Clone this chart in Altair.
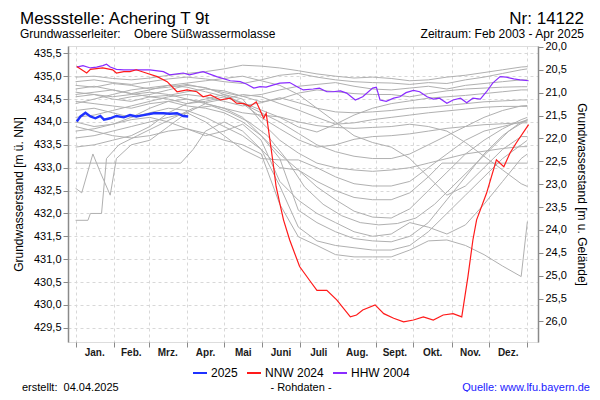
import altair as alt
import pandas as pd

# ---------------- axis / layout values ----------------
MONTH_STARTS = [0, 31, 59, 90, 120, 151, 181, 212, 243, 273, 304, 334, 365]
MONTH_LABELS = ["Jan.", "Feb.", "Mrz.", "Apr.", "Mai", "Juni", "Juli", "Aug.",
                "Sept.", "Okt.", "Nov.", "Dez."]
LEVEL_TICKS = [429.5, 430.0, 430.5, 431.0, 431.5, 432.0, 432.5, 433.0,
               433.5, 434.0, 434.5, 435.0, 435.5]
DEPTH_TICKS = [20.0, 20.5, 21.0, 21.5, 22.0, 22.5, 23.0, 23.5, 24.0, 24.5,
               25.0, 25.5, 26.0]
GROUND = 455.64
Y_MIN, Y_MAX = 429.19, 435.66
X_MIN, X_MAX = -6.1, 373.6

# ---------------- highlighted series ----------------
DAYS_2025 = [1, 4, 8, 12, 16, 20, 23, 28, 33, 39, 44, 49, 55, 63, 71, 76, 82, 87, 91]
LEVEL_2025 = [434.01, 434.12, 434.20, 434.12, 434.08, 434.13, 434.05, 434.08, 434.13,
              434.10, 434.15, 434.12, 434.15, 434.19, 434.19, 434.18, 434.19, 434.13, 434.12]

DAYS_NNW = [1, 9, 12, 22, 30, 33, 39, 44, 49, 57, 66, 74, 82, 90, 98, 103, 109, 117,
            125, 130, 136, 141, 146, 149, 152, 154, 157, 160, 162, 165, 168, 173, 181,
            189, 195, 203, 211, 222, 227, 232, 242, 249, 257, 265, 273, 281, 289, 297,
            305, 312, 317, 321, 324, 332, 340, 346, 351, 356, 366]
LEVEL_NNW = [435.21, 435.07, 435.15, 435.18, 435.14, 435.07, 435.10, 435.10, 435.14,
             435.07, 434.99, 434.88, 434.66, 434.70, 434.66, 434.55, 434.59, 434.48,
             434.52, 434.41, 434.40, 434.34, 434.44, 434.26, 434.08, 434.19, 433.61,
             433.02, 432.59, 432.22, 431.86, 431.42, 430.84, 430.54, 430.32, 430.32,
             430.11, 429.74, 429.78, 429.89, 430.00, 429.81, 429.71, 429.63, 429.67,
             429.74, 429.67, 429.78, 429.81, 429.74, 430.62, 431.42, 431.86, 432.44,
             433.17, 433.02, 433.32, 433.54, 433.94]

DAYS_HHW = [1, 6, 12, 17, 22, 25, 28, 33, 39, 49, 60, 71, 76, 87, 92, 103, 114, 125,
            133, 138, 144, 149, 154, 160, 165, 173, 179, 184, 192, 197, 203, 208, 214,
            219, 226, 232, 240, 243, 246, 251, 257, 262, 267, 273, 278, 284, 289, 294,
            300, 305, 311, 316, 321, 327, 332, 337, 343, 348, 354, 359, 366]
LEVEL_HHW = [435.20, 435.23, 435.18, 435.20, 435.23, 435.26, 435.20, 435.15, 435.14,
             435.14, 435.14, 435.10, 435.03, 435.07, 435.03, 435.10, 434.99, 434.90,
             434.88, 434.83, 434.74, 434.77, 434.76, 434.81, 434.85, 434.86, 434.77,
             434.70, 434.72, 434.74, 434.66, 434.66, 434.68, 434.63, 434.48, 434.55,
             434.74, 434.76, 434.48, 434.45, 434.52, 434.55, 434.64, 434.69, 434.66,
             434.55, 434.50, 434.52, 434.41, 434.48, 434.52, 434.42, 434.52, 434.50,
             434.66, 434.85, 434.99, 434.98, 434.94, 434.92, 434.90]

SERIES = ["2025", "NNW 2024", "HHW 2004"]
SERIES_COLORS = ["#1f32ff", "#ff1a1a", "#8a2cff"]

# ---------------- other years (grey) ----------------
DAYS_GRID = [0, 15, 30, 45, 60, 75, 90, 105, 120, 135, 150, 165, 180, 195, 210, 225,
             240, 255, 270, 285, 300, 315, 330, 345, 360, 365]

G2005 = [434.98, 435.00, 434.95, 434.92, 434.96, 435.02, 435.06, 435.10, 435.16, 435.24,
         435.22, 435.18, 435.12, 435.05, 435.00, 434.96, 434.98, 434.95, 434.90, 434.92,
         434.98, 435.02, 435.08, 435.14, 435.20, 435.21]
G2006 = [434.88, 434.92, 434.86, 434.82, 434.88, 434.94, 434.98, 434.94, 434.88, 434.84,
         434.92, 435.02, 435.06, 434.98, 434.92, 434.88, 434.86, 434.85, 434.82, 434.86,
         434.84, 434.92, 434.98, 435.06, 435.14, 435.16]
G2007 = [434.80, 434.76, 434.84, 434.80, 434.72, 434.76, 434.82, 434.74, 434.64, 434.56,
         434.60, 434.70, 434.78, 434.82, 434.86, 434.78, 434.72, 434.70, 434.74, 434.78,
         434.72, 434.80, 434.84, 434.88, 434.92, 434.92]
G2008 = [434.60, 434.65, 434.70, 434.62, 434.55, 434.58, 434.66, 434.72, 434.68, 434.56,
         434.44, 434.50, 434.63, 434.70, 434.66, 434.62, 434.60, 434.60, 434.55, 434.62,
         434.68, 434.72, 434.74, 434.76, 434.77, 434.77]
G2009 = [434.72, 434.78, 434.70, 434.62, 434.70, 434.80, 434.76, 434.66, 434.56, 434.42,
         434.26, 434.10, 433.89, 433.78, 433.95, 434.15, 434.30, 434.40, 434.46, 434.52,
         434.55, 434.58, 434.62, 434.66, 434.70, 434.70]
G2010 = [434.10, 434.15, 434.25, 434.35, 434.45, 434.55, 434.60, 434.55, 434.45, 434.35,
         434.42, 434.53, 434.42, 434.30, 434.22, 434.20, 434.22, 434.25, 434.30, 434.32,
         434.36, 434.40, 434.44, 434.46, 434.48, 434.48]
G2011 = [434.65, 434.60, 434.55, 434.60, 434.65, 434.60, 434.50, 434.42, 434.50, 434.60,
         434.55, 434.40, 434.26, 434.10, 433.95, 433.98, 434.05, 434.10, 434.15, 434.20,
         434.24, 434.28, 434.32, 434.34, 434.34, 434.34]
G2012 = [433.80, 433.85, 433.95, 434.10, 434.30, 434.45, 434.50, 434.40, 434.30, 434.20,
         434.15, 434.11, 434.00, 433.92, 433.88, 433.86, 433.88, 433.90, 433.95, 433.90,
         433.80, 433.55, 433.25, 432.95, 432.65, 432.59]
G2013 = [434.55, 434.60, 434.50, 434.45, 434.55, 434.50, 434.40, 434.45, 434.55, 434.40,
         434.10, 433.85, 433.61, 433.45, 433.50, 433.62, 433.68, 433.70, 433.74, 433.80,
         433.86, 433.90, 433.94, 433.96, 433.98, 433.98]
G2014 = [434.40, 434.50, 434.60, 434.70, 434.75, 434.80, 434.85, 434.90, 434.95, 435.00,
         434.90, 434.80, 434.60, 434.30, 434.00, 433.70, 433.55, 433.45, 433.20, 432.80,
         432.40, 432.60, 433.00, 433.40, 433.68, 433.68]
G2015 = [433.45, 433.50, 433.60, 433.70, 433.90, 434.20, 434.40, 434.50, 434.60, 434.50,
         434.00, 433.60, 433.32, 433.10, 433.00, 432.95, 432.92, 432.95, 433.00, 433.10,
         433.20, 433.30, 433.36, 433.42, 433.46, 433.46]
G2016 = [433.65, 433.70, 433.80, 433.90, 434.00, 434.10, 434.20, 434.00, 433.70, 433.40,
         433.20, 433.17, 433.17, 433.00, 432.80, 432.65, 432.60, 432.60, 432.70, 433.00,
         433.30, 433.60, 433.80, 433.90, 434.00, 434.02]
G2018 = [434.45, 434.40, 434.35, 434.30, 434.40, 434.45, 434.35, 434.30, 434.20, 434.00,
         433.70, 433.30, 432.95, 432.58, 432.30, 432.05, 431.92, 431.90, 432.10, 432.50,
         432.90, 433.30, 433.60, 433.85, 434.05, 434.10]
G2020 = [434.00, 433.90, 433.95, 434.05, 434.10, 434.00, 433.85, 433.70, 433.80, 433.95,
         433.60, 432.70, 432.29, 432.00, 431.80, 431.60, 431.50, 431.55, 431.80, 431.70,
         431.55, 431.75, 432.20, 432.70, 433.20, 433.30]
G2022 = [434.25, 434.30, 434.20, 434.10, 434.20, 434.30, 434.25, 434.10, 433.90, 433.70,
         433.40, 432.60, 431.70, 431.40, 431.30, 431.25, 431.20, 431.20, 431.30, 431.60,
         432.00, 432.40, 432.80, 433.20, 433.50, 433.60]
G2023 = [433.90, 433.80, 433.70, 433.65, 433.70, 433.80, 433.85, 433.75, 433.60, 433.50,
         433.30, 432.20, 431.49, 431.30, 431.10, 431.05, 431.05, 431.05, 431.20, 431.40,
         431.42, 431.30, 431.10, 430.85, 430.62, 431.82]

DAYS_2003 = [35, 45, 60, 75, 90, 105, 120, 135, 150, 165, 180, 195, 210, 225, 240, 255,
             270, 285, 300, 315, 330, 345, 360, 365]
G2003 = [434.50, 434.55, 434.60, 434.70, 434.80, 434.75, 434.60, 434.40, 434.20, 434.00,
         433.75, 433.50, 433.35, 433.25, 433.20, 433.20, 433.30, 433.50, 433.70, 433.90,
         434.10, 434.25, 434.35, 434.36]

DAYS_2017 = [0, 30, 60, 85, 95, 105, 120, 135, 150, 165, 180, 195, 210, 225, 240, 255,
             270, 285, 296, 330, 365]
G2017 = [433.10, 433.10, 433.10, 433.10, 433.40, 433.80, 434.00, 433.80, 433.40, 433.00,
         432.95, 432.70, 432.50, 432.35, 432.30, 432.30, 432.45, 432.80, 433.10, 433.10,
         433.10]

DAYS_2019 = [0, 10, 12, 21, 25, 35, 50, 65, 80, 95, 110, 125, 140, 155, 170, 185, 200,
             215, 230, 245, 260, 275, 290, 305, 320, 335, 350, 365]
G2019 = [431.85, 431.85, 432.00, 432.00, 433.20, 433.50, 433.70, 433.90, 434.10, 434.30,
         434.35, 434.20, 434.00, 433.70, 433.20, 432.58, 432.20, 431.95, 431.80, 431.75,
         431.78, 431.90, 432.20, 432.60, 433.00, 433.40, 433.80, 434.05]

DAYS_2021 = [0, 5, 14, 20, 28, 33, 45, 60, 75, 90, 105, 120, 135, 150, 165, 180, 195,
             210, 225, 240, 255, 270, 285, 300, 315, 330, 345, 360, 365]
G2021 = [432.55, 432.45, 433.30, 432.90, 432.40, 433.20, 433.50, 433.60, 433.90, 434.20,
         434.40, 434.30, 434.10, 433.70, 433.20, 432.07, 431.80, 431.60, 431.45, 431.40,
         431.38, 431.50, 431.80, 432.30, 432.80, 433.30, 433.70, 434.00, 434.05]

GREY_YEARS = [
    ("2003", DAYS_2003, G2003), ("2005", DAYS_GRID, G2005), ("2006", DAYS_GRID, G2006),
    ("2007", DAYS_GRID, G2007), ("2008", DAYS_GRID, G2008), ("2009", DAYS_GRID, G2009),
    ("2010", DAYS_GRID, G2010), ("2011", DAYS_GRID, G2011), ("2012", DAYS_GRID, G2012),
    ("2013", DAYS_GRID, G2013), ("2014", DAYS_GRID, G2014), ("2015", DAYS_GRID, G2015),
    ("2016", DAYS_GRID, G2016), ("2017", DAYS_2017, G2017), ("2018", DAYS_GRID, G2018),
    ("2019", DAYS_2019, G2019), ("2020", DAYS_GRID, G2020), ("2021", DAYS_2021, G2021),
    ("2022", DAYS_GRID, G2022), ("2023", DAYS_GRID, G2023),
]

# ---------------- tables ----------------
grey_rows = []
for year, days, vals in GREY_YEARS:
    for d, v in zip(days, vals):
        grey_rows.append({"year": year, "day": d, "level": v})
grey_df = pd.DataFrame(grey_rows)


def series_df(name, days, vals):
    return pd.DataFrame({"series": name, "day": days, "level": vals})


month_df = pd.DataFrame({
    "mid": [(a + b) / 2 for a, b in zip(MONTH_STARTS[:-1], MONTH_STARTS[1:])],
    "label": MONTH_LABELS,
})

FONT = "Liberation Sans"
GRID = "#d8d8d8"
AXC = "#8a8a8a"

x_scale = alt.Scale(domain=[X_MIN, X_MAX], nice=False, zero=False)
x_axis = alt.Axis(values=MONTH_STARTS, labels=False, ticks=True, tickSize=5,
                  tickColor=AXC, domain=False, grid=True, gridDash=[3, 3],
                  gridColor=GRID, title=None)
y_scale = alt.Scale(domain=[Y_MIN, Y_MAX], nice=False, zero=False)
y_axis = alt.Axis(values=LEVEL_TICKS,
                  labelExpr="replace(format(datum.value, '.1f'), '.', ',')",
                  tickSize=5, tickColor=AXC, domainColor=AXC, domainWidth=1.5,
                  grid=True, gridDash=[3, 3], gridColor=GRID,
                  title="Grundwasserstand [m ü. NN]", titleFontSize=12,
                  titleFontWeight="normal", titleColor="black", labelFontSize=11,
                  labelColor="black", labelPadding=2, titlePadding=8,
                  labelFont=FONT, titleFont=FONT)

grey = alt.Chart(grey_df).mark_line(color="#b0b0b0", strokeWidth=1).encode(
    x=alt.X("day:Q", scale=x_scale, axis=x_axis),
    y=alt.Y("level:Q", scale=y_scale, axis=y_axis),
    detail="year:N",
)

color_enc = alt.Color("series:N",
                      scale=alt.Scale(domain=SERIES, range=SERIES_COLORS),
                      legend=alt.Legend(orient="none", legendX=124, legendY=319,
                                        direction="horizontal", title=None,
                                        symbolType="stroke", symbolSize=196,
                                        symbolStrokeWidth=2, labelFontSize=12,
                                        labelFont=FONT, labelColor="black",
                                        columnPadding=5, labelOffset=3))


def hl_layer(name, days, vals, width):
    return alt.Chart(series_df(name, days, vals)).mark_line(strokeWidth=width).encode(
        x=alt.X("day:Q", scale=x_scale, axis=x_axis),
        y=alt.Y("level:Q", scale=y_scale, axis=y_axis),
        color=color_enc,
    )


hhw = hl_layer("HHW 2004", DAYS_HHW, LEVEL_HHW, 1.2)
nnw = hl_layer("NNW 2024", DAYS_NNW, LEVEL_NNW, 1.2)
cur = hl_layer("2025", DAYS_2025, LEVEL_2025, 2.4)

months = alt.Chart(month_df).mark_text(fontSize=10, fontWeight="bold", font=FONT,
                                       color="#1a1a1a", baseline="alphabetic").encode(
    x=alt.X("mid:Q", scale=x_scale, axis=x_axis),
    y=alt.value(310),
    text="label:N",
)


def label(txt, x, y, size=12, align="left", color="black", weight="normal"):
    return alt.Chart(pd.DataFrame({"t": [txt]})).mark_text(
        fontSize=size, align=align, baseline="alphabetic", font=FONT,
        color=color, fontWeight=weight).encode(
        x=alt.value(x), y=alt.value(y), text="t:N")


texts = [
    label("Messstelle: Achering T 9t", -48, -22.5, size=17),
    label("Nr: 14122", 516, -22.5, size=17, align="right"),
    label("Grundwasserleiter:\u00a0\u00a0\u00a0 Obere Süßwassermolasse", -48, -8, size=12),
    label("Zeitraum: Feb 2003 - Apr 2025", 516, -8, size=12, align="right"),
    label("erstellt:\u00a0 04.04.2025", -46, 345, size=11),
    label("- Rohdaten -", 233, 345, size=11, align="center"),
    label("Quelle: www.lfu.bayern.de", 522, 345, size=11, align="right", color="#1a1aff"),
]

inner = alt.layer(grey, hhw, nnw, cur, months, *texts)

right = alt.Chart(pd.DataFrame({"depth": DEPTH_TICKS})).mark_point(opacity=0).encode(
    y=alt.Y("depth:Q",
            scale=alt.Scale(domain=[GROUND - Y_MAX, GROUND - Y_MIN], reverse=True,
                            nice=False, zero=False),
            axis=alt.Axis(orient="right", values=DEPTH_TICKS,
                          labelExpr="replace(format(datum.value, '.1f'), '.', ',')",
                          tickSize=5, tickColor=AXC, domainColor=AXC, domainWidth=1.5,
                          grid=False, title="Grundwasserstand [m u. Gelände]",
                          titleFontSize=12, titleFontWeight="normal",
                          titleColor="black", labelFontSize=11, labelColor="black",
                          labelPadding=2, titlePadding=8, labelFont=FONT,
                          titleFont=FONT)),
)

chart = alt.layer(inner, right).resolve_scale(y="independent").properties(
    width=470, height=296,
    padding={"left": 60, "top": 38, "right": 54, "bottom": 50},
    autosize=alt.AutoSizeParams(type="none"),
).configure_view(stroke="#a8a8a8").configure(font=FONT)

chart.save("out.html", embed_options={"renderer": "svg", "actions": False})
